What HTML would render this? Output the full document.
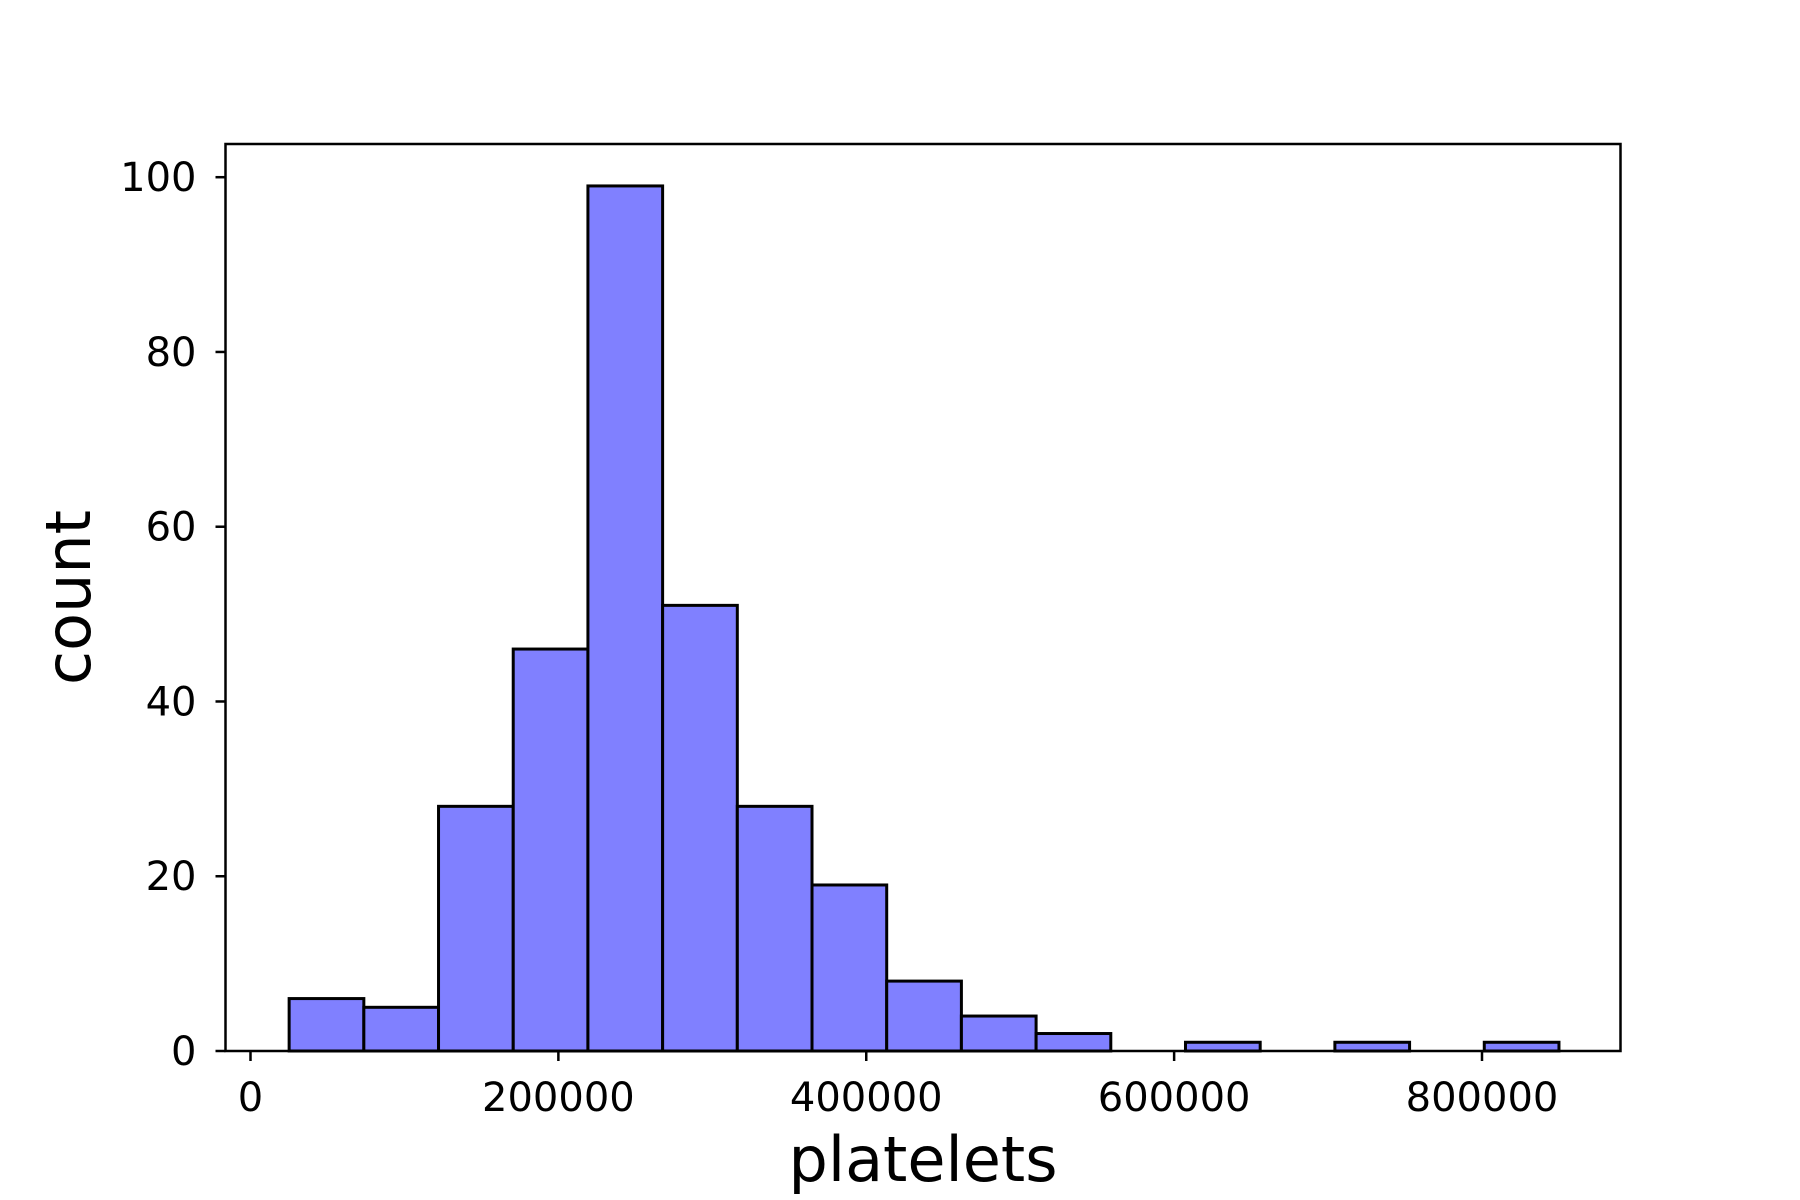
<!DOCTYPE html>
<html><head><meta charset="utf-8"><style>body{margin:0;background:#fff}svg{display:block}</style></head>
<body>
<svg id="chart" width="1800" height="1200" xmlns="http://www.w3.org/2000/svg" font-family="'DejaVu Sans','Liberation Sans',sans-serif"></svg>
<script>
const binStart = 25100;
const binEnd = 850000;
const counts = [6,5,28,46,99,51,28,19,8,4,2,0,1,0,1,0,1];
const xTicks = [0,200000,400000,600000,800000];
const xTickLabels = ["0","200000","400000","600000","800000"];
const yTicks = [0,20,40,60,80,100];
const yTickLabels = ["0","20","40","60","80","100"];

const svg = document.getElementById('chart');
const NS = 'http://www.w3.org/2000/svg';
const L=225.5, R=1620.5, T=144, B=1051;
const xs = v => 250.5 + v*(1482-250.5)/800000;
const ys = v => B - v*(B-177.2)/100;
function mk(tag, attrs, parent){const e=document.createElementNS(NS,tag);for(const k in attrs)e.setAttribute(k,attrs[k]);(parent||svg).appendChild(e);return e;}

const bars = mk('g',{});


const w = (binEnd-binStart)/counts.length;
counts.forEach((c,i)=>{
  if(c<=0) return;
  const x0=xs(binStart+i*w), x1=xs(binStart+(i+1)*w);
  const r=mk('rect',{x:x0,y:ys(c),width:x1-x0,height:B-ys(c),fill:'#8080ff',stroke:'#000','stroke-width':3},bars);
  
  
});

const frame = mk('rect',{x:L,y:T,width:R-L,height:B-T,fill:'none',stroke:'#000','stroke-width':2.5});



xTicks.forEach((v,i)=>{
  const x=xs(v);
  mk('line',{x1:x,x2:x,y1:B,y2:B+10,stroke:'#000','stroke-width':2.5});
  const t=mk('text',{x:x,y:B+60,'font-size':40,'text-anchor':'middle',fill:'#000'});
  t.textContent=xTickLabels[i];
  
  
});
yTicks.forEach((v,i)=>{
  const y=ys(v);
  mk('line',{x1:L-10,x2:L,y1:y,y2:y,stroke:'#000','stroke-width':2.5});
  const t=mk('text',{x:L-29,y:y+14,'font-size':40,'text-anchor':'end',fill:'#000'});
  t.textContent=yTickLabels[i];
  
  
});

const xl=mk('text',{x:(L+R)/2,y:1181,'font-size':62,'text-anchor':'middle',fill:'#000'});
xl.textContent='platelets';


const yl=mk('text',{x:0,y:0,'font-size':62,'text-anchor':'middle',fill:'#000',transform:'translate(90,'+((T+B)/2)+') rotate(-90)'});
yl.textContent='count';


</script>
</body></html>
